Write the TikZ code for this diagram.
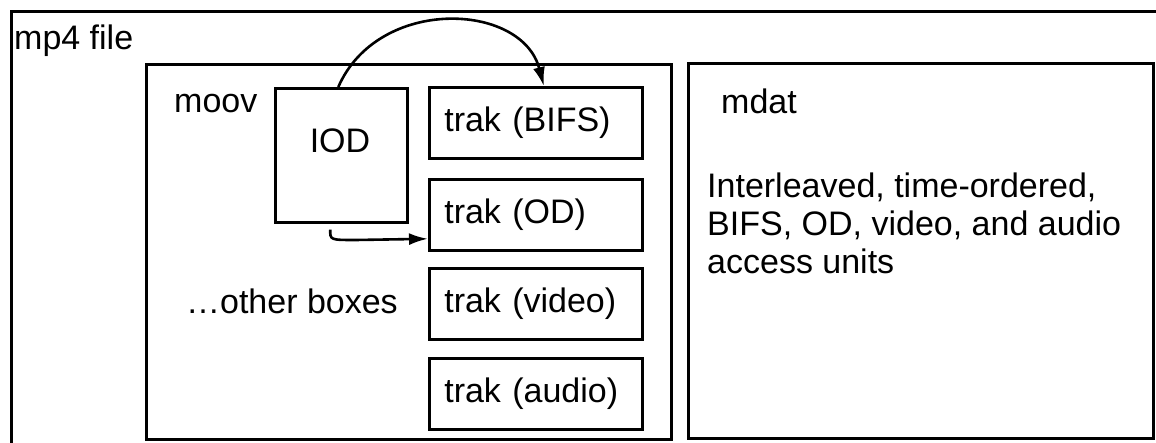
\documentclass[tikz,border=0pt]{standalone}
\usepackage{fontspec}
\setmainfont{Liberation Sans}
\usetikzlibrary{arrows.meta}
\begin{document}
\begin{tikzpicture}[x=1pt,y=-1pt,
  every node/.style={font=\fontsize{34}{38}\selectfont},
  box/.style={draw,line width=2.6pt,anchor=north west,inner sep=0pt},
  trakbox/.style={box,minimum width=213pt,minimum height=71pt,text width=183pt,align=left,inner xsep=15pt},
  txt/.style={inner sep=0pt},
  arr/.style={line width=2.6pt,-{Latex[length=19pt,width=12pt]}}
]
\useasboundingbox (0,0) rectangle (1156,443);
\node[box,minimum width=1170pt,minimum height=460pt] (file) at (10,10) {};
\node[txt,anchor=base west] (filetxt) at (14,50) {mp4 file};
\node[box,minimum width=525pt,minimum height=375pt] (moov) at (145,63) {};
\node[txt,anchor=base west] (moovtxt) at (174,113) {moov};
\node[box,minimum width=132pt,minimum height=134pt] (iod) at (274,87) {};
\node[txt,anchor=base] (iodtxt) at (340,153) {IOD};
\node[trakbox] (bifs) at (428,86) {trak (BIFS)};
\node[trakbox] (od) at (428,178) {trak (OD)};
\node[trakbox] (video) at (428,267) {trak (video)};
\node[trakbox] (audio) at (428,357) {trak (audio)};
\node[txt,anchor=base east] (other) at (398,314) {\dots other boxes};
\node[box,minimum width=465pt,minimum height=375pt] (mdat) at (687,62) {};
\node[txt,anchor=base west] (mdattxt) at (721,114) {mdat};
\node[txt,anchor=north west,align=left] (desc) at (707,173) {Interleaved, time-ordered,\\BIFS, OD, video, and audio\\access units};
\draw[arr] ([xshift=-3pt]iod.north) .. controls (378,-4) and (522,2) .. ([xshift=8pt]bifs.north);
\coordinate (bend) at (356,240);
\draw[arr] ([xshift=-11pt,yshift=-6pt]iod.south) .. controls (330,240) .. (bend) -- ([yshift=-24pt]od.west);
\end{tikzpicture}
\end{document}
